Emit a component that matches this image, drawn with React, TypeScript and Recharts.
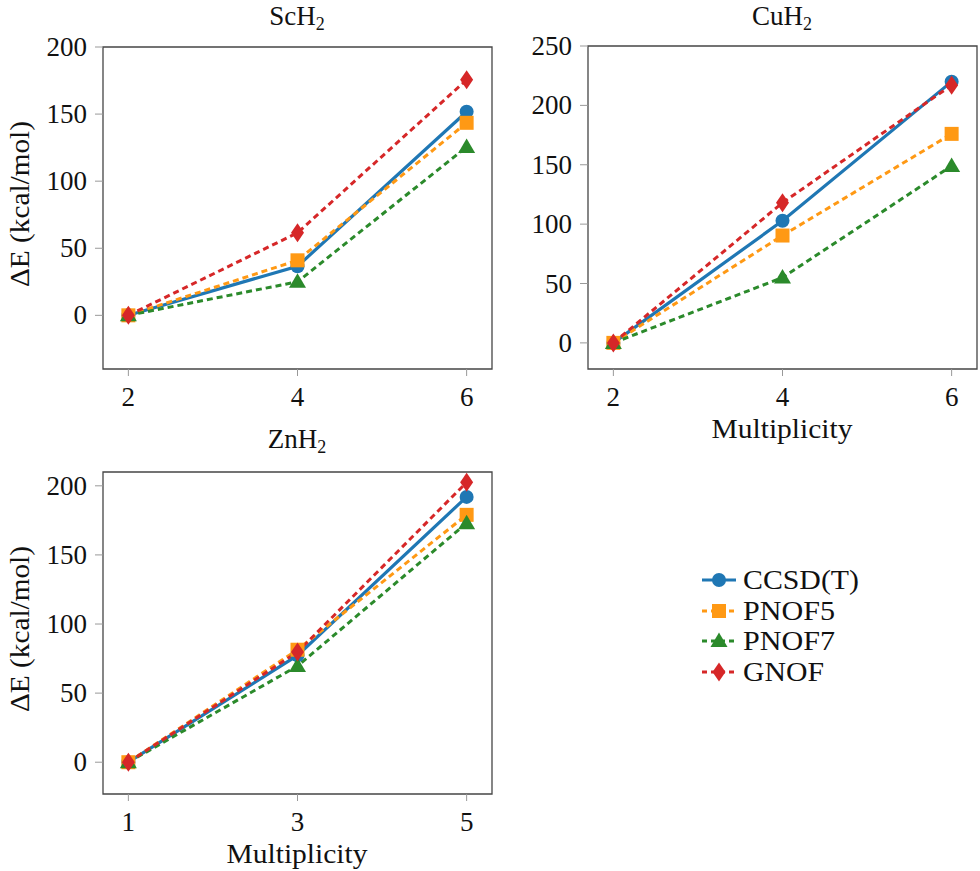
import React from "react";
import { LineChart, Line, XAxis, YAxis, ReferenceArea } from "recharts";

// multiplicities (x) per molecule
const scX = [2, 4, 6];
const cuX = [2, 4, 6];
const znX = [1, 3, 5];

// ΔE (kcal/mol)
const scCCSD = [0, 36.6, 151.7];
const scPNOF5 = [0, 41, 143.5];
const scPNOF7 = [0, 25, 125.5];
const scGNOF = [0, 61.5, 175.5];

const cuCCSD = [0, 102.8, 220];
const cuPNOF5 = [0, 90.4, 176];
const cuPNOF7 = [0, 55, 149];
const cuGNOF = [0, 118, 217];

const znCCSD = [0, 77.3, 192];
const znPNOF5 = [0, 81.4, 179];
const znPNOF7 = [0, 69.6, 173];
const znGNOF = [0, 79.7, 202.5];

const scYTicks = [0, 50, 100, 150, 200];
const cuYTicks = [0, 50, 100, 150, 200, 250];
const znYTicks = [0, 50, 100, 150, 200];

const FONT = "Liberation Serif";

// legend text widths follow the Computer Modern look of the original
const methods = [
  { key: "ccsd", name: "CCSD(T)", color: "#1f77b4", dash: undefined, shape: "circle", textW: 116 },
  { key: "pnof5", name: "PNOF5", color: "#ff9914", dash: "6 4", shape: "square", textW: 92 },
  { key: "pnof7", name: "PNOF7", color: "#2b8a2b", dash: "6 4", shape: "triangle", textW: 92 },
  { key: "gnof", name: "GNOF", color: "#d62728", dash: "6 4", shape: "diamond", textW: 81 },
];

function Marker({ cx, cy, shape, color }: any) {
  if (cx == null || cy == null) return null;
  if (shape === "circle") return <circle cx={cx} cy={cy} r={7} fill={color} />;
  if (shape === "square") return <rect x={cx - 7} y={cy - 7} width={14} height={14} fill={color} />;
  if (shape === "triangle")
    return <polygon points={`${cx},${cy - 8.5} ${cx + 8.5},${cy + 6} ${cx - 8.5},${cy + 6}`} fill={color} />;
  return <polygon points={`${cx},${cy - 9.5} ${cx + 6.5},${cy} ${cx},${cy + 9.5} ${cx - 6.5},${cy}`} fill={color} />;
}

function buildRows(xs: number[], ccsd: number[], p5: number[], p7: number[], g: number[]) {
  return xs.map((x, i) => ({ x, ccsd: ccsd[i], pnof5: p5[i], pnof7: p7[i], gnof: g[i] }));
}

function Tick({ x, y, payload, anchor, dy }: any) {
  return (
    <text x={x} y={y} dy={dy} textAnchor={anchor} fontSize={27} fontFamily={FONT} fill="#111">
      {payload.value}
    </text>
  );
}

interface PanelProps {
  left: number;
  top: number;
  width: number;
  height: number;
  margin: { top: number; right: number; bottom: number; left: number };
  xAxisHeight: number;
  xs: number[];
  xDomain: [number, number];
  yDomain: [number, number];
  yTicks: number[];
  rows: any[];
}

function Panel({ left, top, width, height, margin, xAxisHeight, xs, xDomain, yDomain, yTicks, rows }: PanelProps) {
  return (
    <div style={{ position: "absolute", left, top, width, height }}>
      <LineChart width={width} height={height} data={rows} margin={margin}>
        <XAxis
          dataKey="x"
          type="number"
          domain={xDomain}
          ticks={xs}
          allowDataOverflow
          axisLine={false}
          tickLine={{ stroke: "#999", strokeWidth: 1 }}
          tickSize={7}
          tickMargin={10}
          height={xAxisHeight}
          tick={(p: any) => <Tick {...p} anchor="middle" dy={20} />}
        />
        <YAxis
          type="number"
          domain={yDomain}
          ticks={yTicks}
          allowDataOverflow
          axisLine={false}
          tickLine={{ stroke: "#999", strokeWidth: 1 }}
          tickSize={8}
          tickMargin={8}
          width={103}
          tick={(p: any) => <Tick {...p} anchor="end" dy={9} />}
        />
        <ReferenceArea
          x1={xDomain[0]}
          x2={xDomain[1]}
          y1={yDomain[0]}
          y2={yDomain[1]}
          fill="none"
          fillOpacity={0}
          stroke="#454545"
          strokeWidth={1.3}
          ifOverflow="visible"
        />
        {methods.map((m) => (
          <Line
            key={m.key}
            type="linear"
            dataKey={m.key}
            stroke={m.color}
            strokeWidth={m.dash ? 3 : 3.2}
            strokeDasharray={m.dash}
            isAnimationActive={false}
            dot={(p: any) => <Marker key={`${m.key}-${p.index}`} cx={p.cx} cy={p.cy} shape={m.shape} color={m.color} />}
            activeDot={false}
          />
        ))}
      </LineChart>
    </div>
  );
}

function Title({ x, y, base }: { x: number; y: number; base: string }) {
  return (
    <text x={x} y={y} textAnchor="middle" fontSize={27} fontFamily={FONT} fill="#111">
      <tspan>{base}</tspan>
      <tspan fontSize={18} dy={5}>2</tspan>
    </text>
  );
}

function Label({ x, y, rotate, len, children }: any) {
  return (
    <text
      transform={`translate(${x},${y})${rotate ? " rotate(-90)" : ""}`}
      textAnchor="middle"
      fontSize={27}
      fontFamily={FONT}
      fill="#111"
      textLength={len}
      lengthAdjust="spacingAndGlyphs"
    >
      {children}
    </text>
  );
}

const legendRows = [580, 611, 641, 672];

export default function App() {
  return (
    <div style={{ position: "absolute", left: 0, top: 0, width: 980, height: 871, background: "#fff" }}>
      <Panel
        left={0}
        top={0}
        width={500}
        height={440}
        margin={{ top: 47, right: 8, bottom: 0, left: 0 }}
        xAxisHeight={71}
        xs={scX}
        xDomain={[1.7, 6.3]}
        yDomain={[-40, 200]}
        yTicks={scYTicks}
        rows={buildRows(scX, scCCSD, scPNOF5, scPNOF7, scGNOF)}
      />
      <Panel
        left={485}
        top={0}
        width={495}
        height={440}
        margin={{ top: 46, right: 3, bottom: 0, left: 0 }}
        xAxisHeight={71}
        xs={cuX}
        xDomain={[1.7, 6.3]}
        yDomain={[-22, 250]}
        yTicks={cuYTicks}
        rows={buildRows(cuX, cuCCSD, cuPNOF5, cuPNOF7, cuGNOF)}
      />
      <Panel
        left={0}
        top={430}
        width={500}
        height={441}
        margin={{ top: 42, right: 8, bottom: 0, left: 0 }}
        xAxisHeight={77}
        xs={znX}
        xDomain={[0.7, 5.3]}
        yDomain={[-23, 210]}
        yTicks={znYTicks}
        rows={buildRows(znX, znCCSD, znPNOF5, znPNOF7, znGNOF)}
      />
      <svg width={980} height={871} style={{ position: "absolute", left: 0, top: 0, pointerEvents: "none" }}>
        <Title x={297} y={25} base="ScH" />
        <Title x={782} y={25} base="CuH" />
        <Title x={297} y={448} base="ZnH" />
        <Label x={29} y={204} rotate len={166}>ΔE (kcal/mol)</Label>
        <Label x={29} y={629} rotate len={166}>ΔE (kcal/mol)</Label>
        <Label x={782} y={438} len={141}>Multiplicity</Label>
        <Label x={297} y={863} len={141}>Multiplicity</Label>
        {methods.map((m, i) => (
          <g key={m.key}>
            <line
              x1={702}
              x2={736}
              y1={legendRows[i]}
              y2={legendRows[i]}
              stroke={m.color}
              strokeWidth={3}
              strokeDasharray={m.dash ? "5 4" : undefined}
            />
            <Marker cx={719} cy={legendRows[i]} shape={m.shape} color={m.color} />
            <text
              x={743}
              y={legendRows[i]}
              dy={9}
              fontSize={27}
              fontFamily={FONT}
              fill="#111"
              textLength={m.textW}
              lengthAdjust="spacingAndGlyphs"
            >
              {m.name}
            </text>
          </g>
        ))}
      </svg>
    </div>
  );
}
